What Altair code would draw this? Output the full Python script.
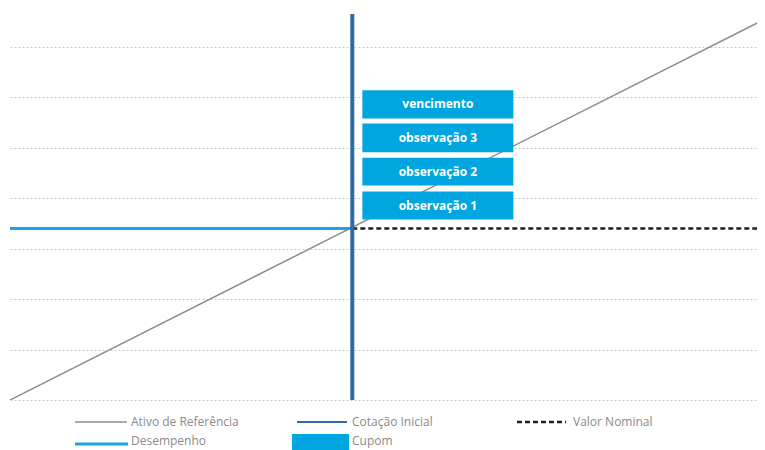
import altair as alt
import pandas as pd

# ---- data ----
asset_x = [0, 150]          # Ativo de Referência
asset_y = [0, 151]
initial_level = 68          # Cotação Inicial / Valor Nominal level
x_max = 148.4               # right edge of the visible plot
y_max = 153
grid_values = [0, 20, 40, 60, 80, 100, 120, 140]

box_labels = ["observação 1", "observação 2", "observação 3", "vencimento"]
box_x0 = [70, 70, 70, 70]
box_x1 = [100, 100, 100, 100]
box_y0 = [71.5, 85, 98.2, 111.6]
box_y1 = [82.6, 96, 109.6, 122.8]

legend_labels = ["Ativo de Referência", "Cotação Inicial", "Valor Nominal",
                 "Desempenho", "Cupom"]

# ---- colours / styles ----
GRAY = "#8c8c8c"
NAVY = "#2f6aa3"
CYAN = "#18a6e0"
BOX = "#00a6e0"
BLACK = "#1f1f1f"
FONT = "Open Sans"

xs = alt.Scale(domain=[0, x_max], nice=False, zero=False)
ys = alt.Scale(domain=[0, y_max], nice=False, zero=False)

asset_df = pd.DataFrame({"x": asset_x, "y": asset_y})
perf_df = pd.DataFrame({"x": [0, initial_level], "y": [initial_level, initial_level]})
nominal_df = pd.DataFrame({"x": [initial_level, x_max], "y": [initial_level, initial_level]})
vert_df = pd.DataFrame({"x": [initial_level, initial_level], "y": [0, y_max]})
box_df = pd.DataFrame({"label": box_labels, "x0": box_x0, "x1": box_x1,
                       "y0": box_y0, "y1": box_y1})
box_df["xm"] = (box_df.x0 + box_df.x1) / 2
box_df["ym"] = (box_df.y0 + box_df.y1) / 2

yaxis = alt.Axis(values=grid_values, grid=True, gridDash=[2, 2], gridColor="#c8c8c8",
                 gridWidth=1, labels=False, ticks=False, domain=False, title=None)

asset = alt.Chart(asset_df).mark_line(color=GRAY, strokeWidth=1.5, clip=True).encode(
    x=alt.X("x:Q", scale=xs, axis=None),
    y=alt.Y("y:Q", scale=ys, axis=yaxis),
)
perf = alt.Chart(perf_df).mark_line(color=CYAN, strokeWidth=3).encode(
    x=alt.X("x:Q", scale=xs), y=alt.Y("y:Q", scale=ys))
nominal = alt.Chart(nominal_df).mark_line(color=BLACK, strokeWidth=2.5, strokeDash=[5, 3]).encode(
    x=alt.X("x:Q", scale=xs), y=alt.Y("y:Q", scale=ys))
vert = alt.Chart(vert_df).mark_line(color=NAVY, strokeWidth=4).encode(
    x=alt.X("x:Q", scale=xs), y=alt.Y("y:Q", scale=ys))
boxes = alt.Chart(box_df).mark_rect(color=BOX).encode(
    x=alt.X("x0:Q", scale=xs), x2="x1:Q",
    y=alt.Y("y0:Q", scale=ys), y2="y1:Q")
box_text = alt.Chart(box_df).mark_text(color="white", font=FONT, fontWeight="bold",
                                       fontSize=12).encode(
    x=alt.X("xm:Q", scale=xs), y=alt.Y("ym:Q", scale=ys), text="label:N")

# ---- manual legend (layout in pixels below the plot) ----
one = pd.DataFrame({"k": [0]})
row1, row2 = 408, 427
def leg_line(x0, x1, yy, color, width, dash=None):
    kw = dict(color=color, strokeWidth=width)
    if dash:
        kw["strokeDash"] = dash
    return alt.Chart(one).mark_rule(**kw).encode(
        x=alt.value(x0), x2=alt.value(x1), y=alt.value(yy))
def leg_text(xx, yy, txt):
    return alt.Chart(one).mark_text(align="left", baseline="middle", font=FONT,
                                    fontSize=12, color="#8a8a8a", text=txt).encode(
        x=alt.value(xx), y=alt.value(yy))

leg_layers = [
    leg_line(65, 117, row1, GRAY, 1.5), leg_text(121, row1, legend_labels[0]),
    leg_line(287, 337, row1, NAVY, 2), leg_text(342, row1, legend_labels[1]),
    leg_line(507, 556, row1, BLACK, 2.5, [5, 3]), leg_text(563, row1, legend_labels[2]),
    leg_line(65, 118, row2 + 3, CYAN, 3), leg_text(121, row2, legend_labels[3]),
    alt.Chart(one).mark_rect(color=BOX).encode(
        x=alt.value(282), x2=alt.value(339), y=alt.value(420), y2=alt.value(442)),
    leg_text(342, row2, legend_labels[4]),
]

chart = alt.layer(asset, perf, nominal, vert, boxes, box_text, *leg_layers).properties(
    width=747, height=386,
    padding={"left": 2, "top": 6, "right": 0, "bottom": 50},
    autosize="none",
).configure_view(stroke=None)

chart.save("out.html", embed_options={"renderer": "svg", "actions": False})
